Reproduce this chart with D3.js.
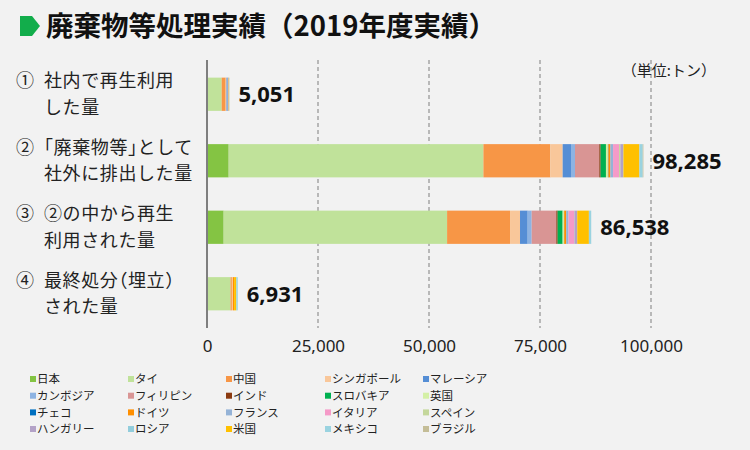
<!DOCTYPE html>
<html><head><meta charset="utf-8">
<script src="https://cdn.jsdelivr.net/npm/d3@7"></script>
<style>
body{margin:0;background:#f2f2f2;}
svg{display:block;font-family:"Noto Sans CJK JP","Noto Sans",sans-serif;}
.halt{font-feature-settings:"halt" 1;}
</style></head>
<body>
<script>
const title = "廃棄物等処理実績（2019年度実績）";
const unitLabel = "（単位:トン）";
const categoryNums = ["①","②","③","④"];
const categoryLines = [
  ["社内で再生利用","した量"],
  ["「廃棄物等」として","社外に排出した量"],
  ["②の中から再生","利用された量"],
  ["最終処分（埋立）","された量"]
];
const seriesNames = ["日本","タイ","中国","シンガポール","マレーシア","カンボジア","フィリピン","インド","スロバキア","英国","チェコ","ドイツ","フランス","イタリア","スペイン","ハンガリー","ロシア","米国","メキシコ","ブラジル"];
const seriesColors = ["#84c443","#c0e29a","#f79646","#f9c79a","#558ed5","#8db3e2","#d99594","#8b3a10","#00b050","#d4f0a6","#0070c0","#ff8f00","#95b3d7","#f59ac8","#c4d79b","#b3a2c7","#92cddc","#ffc000","#9ad3e0","#c4bd97"];
// values per series for the 4 categories
const v日本       = [0, 4880, 3750, 0];
const vタイ       = [3300, 57375, 50325, 5300];
const v中国       = [900, 15075, 14175, 300];
const vシンガポール = [200, 2775, 2250, 250];
const vマレーシア   = [250, 1875, 1725, 0];
const vカンボジア   = [150, 900, 900, 0];
const vフィリピン   = [100, 5475, 5550, 0];
const vインド      = [0, 300, 300, 0];
const vスロバキア   = [0, 1200, 1125, 0];
const v英国       = [0, 450, 300, 0];
const vチェコ      = [0, 100, 50, 0];
const vドイツ      = [0, 450, 450, 250];
const vフランス    = [0, 600, 525, 0];
const vイタリア    = [0, 1350, 1275, 0];
const vスペイン    = [0, 300, 50, 0];
const vハンガリー   = [0, 600, 600, 0];
const vロシア      = [0, 80, 38, 0];
const v米国       = [100, 3600, 2625, 500];
const vメキシコ    = [51, 750, 525, 331];
const vブラジル    = [0, 150, 0, 0];
const seriesValues = [v日本,vタイ,v中国,vシンガポール,vマレーシア,vカンボジア,vフィリピン,vインド,vスロバキア,v英国,vチェコ,vドイツ,vフランス,vイタリア,vスペイン,vハンガリー,vロシア,v米国,vメキシコ,vブラジル];
const tickValues = [0, 25000, 50000, 75000, 100000];

const W = 750, H = 450;
const svg = d3.select("body").append("svg").attr("width", W).attr("height", H);
svg.append("rect").attr("width", W).attr("height", H).attr("fill", "#f2f2f2");

// title
svg.append("path").attr("d", "M20,16 L32,16 L40,26 L32,36 L20,36 Z").attr("fill", "#12ad4b");
svg.append("text").attr("x", 46).attr("y", 36).attr("font-size", 27.5).attr("font-weight", 700)
  .attr("fill", "#111").text(title);

const x = d3.scaleLinear().domain([0, 100000]).range([207, 651]);
const y = d3.scaleBand().domain(d3.range(4)).range([61, 327]).paddingInner(0.5).paddingOuter(0.25);

// gridlines
svg.append("g").selectAll("line").data(tickValues.slice(1)).join("line")
  .attr("x1", d => x(d)).attr("x2", d => x(d)).attr("y1", 60).attr("y2", 328)
  .attr("stroke", "#7f7f7f").attr("stroke-width", 1).attr("stroke-dasharray", "4,3");

// stacked data
const rows = d3.range(4).map(i => {
  const o = {i};
  seriesNames.forEach((s, k) => o[s] = seriesValues[k][i]);
  return o;
});
const stack = d3.stack().keys(seriesNames)(rows);
const color = d3.scaleOrdinal().domain(seriesNames).range(seriesColors);

svg.append("g").selectAll("g").data(stack).join("g").attr("fill", d => color(d.key))
  .selectAll("rect").data(d => d).join("rect")
  .attr("x", d => x(d[0])).attr("width", d => Math.max(0, x(d[1]) - x(d[0])))
  .attr("y", d => y(d.data.i)).attr("height", y.bandwidth());

// left axis line
svg.append("line").attr("x1", 207).attr("x2", 207).attr("y1", 60).attr("y2", 328)
  .attr("stroke", "#7f7f7f").attr("stroke-width", 2);

// x axis tick labels
const xAxis = d3.axisBottom(x).tickValues(tickValues).tickFormat(d3.format(",")).tickSize(0).tickPadding(0);
const gx = svg.append("g").attr("transform", "translate(0,340)").call(xAxis);
gx.select(".domain").remove();
gx.selectAll("text").attr("font-size", 17).attr("fill", "#222")
  .attr("font-family", "'Noto Sans','Noto Sans CJK JP',sans-serif");

// totals
const totals = d3.range(4).map(i => d3.sum(seriesValues, s => s[i]));
svg.append("g").selectAll("text").data(totals).join("text")
  .attr("x", d => x(d) + 9).attr("y", (d, i) => y(i) + y.bandwidth() / 2).attr("dy", "0.36em")
  .attr("font-size", 22).attr("font-weight", 700).attr("fill", "#111")
  .attr("font-family", "'Noto Sans','Noto Sans CJK JP',sans-serif")
  .text(d => d3.format(",")(d));

// category labels
const cg = svg.append("g").attr("fill", "#222").attr("font-size", 18).attr("letter-spacing", 0.6).attr("class", "halt");
categoryNums.forEach((n, i) => {
  const cy = y(i) + y.bandwidth() / 2;
  cg.append("text").attr("x", 16).attr("y", cy - 13.25).attr("dy", "0.36em").text(n);
  categoryLines[i].forEach((t, j) => {
    cg.append("text").attr("x", 44).attr("y", cy - 13.25 + j * 26.5).attr("dy", "0.36em").text(t);
  });
});

// unit label
svg.append("text").attr("x", 716).attr("y", 71).attr("text-anchor", "end").attr("dy", "0.36em")
  .attr("font-size", 15).attr("fill", "#222").text(unitLabel);

// legend
const colX = [30, 128, 226, 325, 423];
const rowY = [379, 395.7, 412.4, 429];
const lg = svg.append("g").selectAll("g").data(seriesNames).join("g")
  .attr("transform", (d, k) => `translate(${colX[k % 5]},${rowY[Math.floor(k / 5)]})`);
lg.append("rect").attr("x", 0).attr("y", -3).attr("width", 6).attr("height", 6).attr("fill", d => color(d));
lg.append("text").attr("x", 7).attr("y", 0).attr("dy", "0.36em").attr("font-size", 11.5)
  .attr("fill", "#222").text(d => d);
</script>
</body></html>
